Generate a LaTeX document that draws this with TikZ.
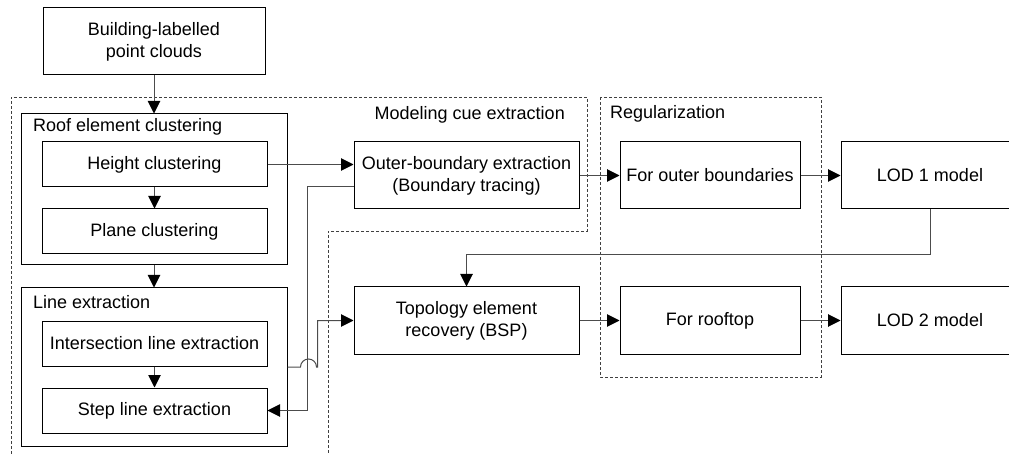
\documentclass[tikz,border=0pt]{standalone}
\usepackage{fontspec}
\setmainfont{Liberation Sans}
\usetikzlibrary{arrows.meta,calc}
\begin{document}
\begin{tikzpicture}[x=1pt,y=-1pt,
  box/.style={draw=black,line width=1pt,rectangle,inner sep=0pt,align=center,
    font=\fontsize{18}{22}\selectfont},
  lbl/.style={inner sep=0pt,font=\fontsize{18}{22}\selectfont},
  conn/.style={draw=black!70,line width=1pt,-{Triangle[length=12.5pt,width=12.5pt,color=black]}},
  plain/.style={draw=black!70,line width=1pt},
  region/.style={draw=black!75,line width=0.9pt,dash pattern=on 3pt off 2pt}]
\useasboundingbox (0,0) rectangle (1009,454);
% regions
\draw[region] (11,454) -- (11,97) -- (587,97) -- (587,231) -- (328,231) -- (328,454);
\draw[region] (600,97) rectangle (821,377);
\node[lbl,anchor=east] (mlab) at (565,115) {Modeling cue extraction};
\node[lbl,anchor=west] (rlab) at (610,114) {Regularization};
% boxes
\node[box,minimum width=222pt,minimum height=67pt] (build) at (154,41.5) {Building-labelled\\point clouds};
\node[box,minimum width=266pt,minimum height=151pt] (roof) at (154,189.5) {};
\node[lbl,anchor=west] (rooflab) at (33,127) {Roof element clustering};
\node[box,minimum width=225pt,minimum height=45pt] (height) at (154.5,164.5) {Height clustering};
\node[box,minimum width=225pt,minimum height=45pt] (plane) at (154.5,231.5) {Plane clustering};
\node[box,minimum width=266pt,minimum height=158pt] (line) at (154,367) {};
\node[lbl,anchor=west] (linelab) at (33,302) {Line extraction};
\node[box,minimum width=225pt,minimum height=45pt] (inter) at (154.5,343.5) {Intersection line extraction};
\node[box,minimum width=225pt,minimum height=45pt] (step) at (154.5,410.5) {Step line extraction};
\node[box,minimum width=225pt,minimum height=67pt] (outer) at (466.5,175.5) {Outer-boundary extraction\\(Boundary tracing)};
\node[box,minimum width=225pt,minimum height=67pt] (topo) at (466.5,320.5) {Topology element\\recovery (BSP)};
\node[box,minimum width=180pt,minimum height=67pt] (forouter) at (710,175.5) {For outer boundaries};
\node[box,minimum width=180pt,minimum height=67pt] (rooftop) at (710,320.5) {For rooftop};
\node[box,minimum width=178pt,minimum height=67pt] (lod1) at (930,175.5) {LOD 1 model};
\node[box,minimum width=178pt,minimum height=67pt] (lod2) at (930,320.5) {LOD 2 model};
% connectors
\draw[conn] (build.south) -- (roof.north);
\draw[conn] (height.south) -- (plane.north);
\draw[conn] (roof.south) -- (line.north);
\draw[conn] (inter.south) -- (step.north);
\draw[conn] (height.east) -- (height.east -| outer.west);
\draw[conn] ([yshift=-11.5pt]outer.west) -- ++(-46,0) |- (step.east);
\draw[conn] (line.east) -- ++(13,0) arc[start angle=180,end angle=0,radius=8pt] -- ++(1,0) |- (topo.west);
\draw[conn] (outer.east) -- (forouter.west);
\draw[conn] (forouter.east) -- (lod1.west);
\draw[conn] (lod1.south) -- ++(0,45) -| (topo.north);
\draw[conn] (topo.east) -- (rooftop.west);
\draw[conn] (rooftop.east) -- (lod2.west);
\end{tikzpicture}
\end{document}
